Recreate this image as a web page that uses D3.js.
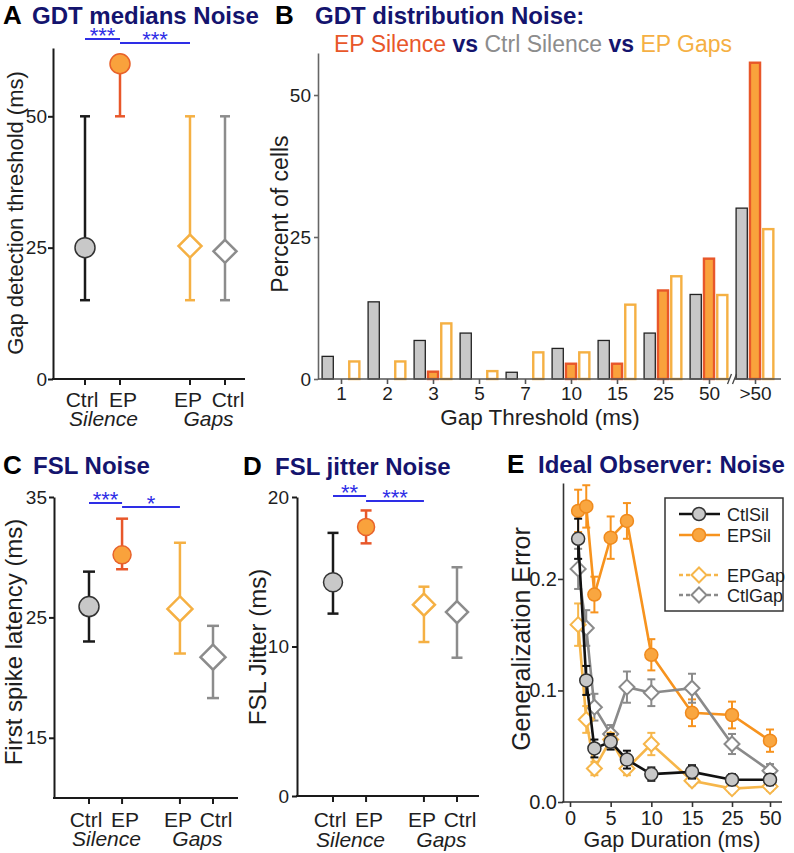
<!DOCTYPE html>
<html><head><meta charset="utf-8">
<script src="https://cdn.jsdelivr.net/npm/d3@7"></script>
<style>
body{margin:0;background:#fff;}
svg{display:block;font-family:"Liberation Sans",Arial,Helvetica,sans-serif;}
</style></head><body>
<svg id="chart" width="794" height="853"></svg>
<script>
// ---------------- DATA ----------------
const groupKeys = ["CtrlSil", "EPSil", "EPGap", "CtrlGap"];
const groupLabels = ["Ctrl", "EP", "EP", "Ctrl"];
const condLabels = ["Silence", "Gaps"];

// Panel A: GDT medians (ms)
const gdtMedian = [25, 60, 25.3, 24.3];
const gdtLow = [15, 50, 15, 15];
const gdtHigh = [50, 60, 50, 50];
const gdtSig = ["***", "***"];

// Panel C: first spike latency (ms)
const fslMedian = [25.9, 30.2, 25.7, 21.7];
const fslLow = [23.0, 29.0, 22.0, 18.3];
const fslHigh = [28.8, 33.2, 31.2, 24.3];
const fslSig = ["***", "*"];

// Panel D: FSL jitter (ms)
const jitMedian = [14.3, 18.0, 12.8, 12.3];
const jitLow = [12.2, 16.9, 10.3, 9.25];
const jitHigh = [17.6, 19.1, 14.0, 15.3];
const jitSig = ["**", "***"];

// Panel B: GDT distribution (% of cells)
const gapThresholds = ["1", "2", "3", "5", "7", "10", "15", "25", "50", ">50"];
const pctCtrlSilence = [4.1, 13.7, 6.9, 8.2, 1.3, 5.5, 6.9, 8.2, 15.0, 30.2];
const pctEPSilence   = [0, 0, 1.5, 0, 0, 2.9, 2.9, 15.8, 21.4, 55.9];
const pctEPGaps      = [3.3, 3.3, 10.0, 1.6, 4.9, 4.9, 13.3, 18.3, 15.0, 26.6];

// Panel E: ideal observer generalization error
const gapDurations = [1, 2, 3, 5, 7, 10, 15, 25, 50];
const errCtlSil = [0.236, 0.109, 0.048, 0.054, 0.038, 0.025, 0.027, 0.020, 0.020];
const semCtlSil = [0.018, 0.013, 0.008, 0.007, 0.008, 0.006, 0.006, 0.005, 0.005];
const errEPSil  = [0.261, 0.265, 0.186, 0.237, 0.252, 0.132, 0.080, 0.078, 0.055];
const semEPSil  = [0.019, 0.019, 0.016, 0.019, 0.016, 0.014, 0.012, 0.012, 0.010];
const errEPGap  = [0.159, 0.074, 0.030, 0.056, 0.030, 0.052, 0.019, 0.012, 0.014];
const semEPGap  = [0.019, 0.012, 0.006, 0.006, 0.006, 0.010, 0.004, 0.004, 0.004];
const errCtlGap = [0.209, 0.156, 0.085, 0.061, 0.103, 0.098, 0.102, 0.052, 0.028];
const semCtlGap = [0.018, 0.016, 0.012, 0.008, 0.014, 0.012, 0.013, 0.009, 0.006];
const seriesNames = ["CtlSil", "EPSil", "EPGap", "CtlGap"];
const eXTicks = [0, 5, 10, 15, 25, 50];
const eYTicks = [0, 0.1, 0.2];

// ---------------- STYLE ----------------
const NAVY = "#14146e", SIGBLUE = "#2e2ee6";
const colStroke = ["#1a1a1a", "#e8572a", "#f5b043", "#8c8c8c"];
const colFill = ["#c8c8c8", "#f9a23c", "#ffffff", "#ffffff"];
const TXT = "#1e1e1e";

const svg = d3.select("#chart");

function styleAxis(a, color, width, fs) {
  a.select(".domain").attr("stroke", color).attr("stroke-width", width);
  a.selectAll(".tick line").attr("stroke", color).attr("stroke-width", width);
  a.selectAll(".tick text").attr("fill", TXT).attr("font-size", fs)
    .attr("font-family", '"Liberation Sans",Arial,sans-serif');
}

function title(letter, lx, text, tx, y) {
  svg.append("text").attr("x", lx).attr("y", y).attr("font-size", 26)
    .attr("font-weight", "bold").attr("fill", "#000").text(letter);
  svg.append("text").attr("x", tx).attr("y", y).attr("font-size", 24)
    .attr("font-weight", "bold").attr("fill", NAVY).text(text);
}

function diamond(s) { return `M0,${-s}L${s},0L0,${s}L${-s},0Z`; }

// --------------- dot / whisker panels -----------------
function dotPanel(o) {
  const g = svg.append("g");
  // index-based position with an extra gap between Silence and Gaps groups
  const xi = d3.scaleLinear().domain([0, 3 + o.gapExtra]).range(o.xRange);
  const xpos = i => xi(i + (i >= 2 ? o.gapExtra : 0));
  const y = d3.scaleLinear().domain(o.yDomain).range([o.yBottom, o.yTop]);

  const ya = g.append("g").attr("transform", `translate(${o.axisX},0)`)
    .call(d3.axisLeft(y).tickValues(o.yTicks).tickSize(5).tickSizeOuter(0).tickPadding(o.tickPad));
  styleAxis(ya, "#1a1a1a", 2, 19);

  g.append("line").attr("x1", o.axisX - 1).attr("x2", o.axisEnd)
    .attr("y1", o.yBottom).attr("y2", o.yBottom).attr("stroke", "#1a1a1a").attr("stroke-width", 2);

  const labDx = [-3, 3, -2, 3];
  groupKeys.forEach((k, i) => {
    const cx = xpos(i);
    g.append("line").attr("x1", cx).attr("x2", cx).attr("y1", o.yBottom).attr("y2", o.yBottom + 6)
      .attr("stroke", "#1a1a1a").attr("stroke-width", 2);
    g.append("text").attr("x", cx + labDx[i]).attr("y", o.yBottom + o.lab1).attr("text-anchor", "middle")
      .attr("font-size", 21).attr("fill", TXT).text(groupLabels[i]);
  });

  [[0, 1], [2, 3]].forEach((p, k) => {
    g.append("text").attr("x", (xpos(p[0]) + xpos(p[1])) / 2 + 1)
      .attr("y", o.yBottom + o.lab2).attr("text-anchor", "middle")
      .attr("font-style", "italic").attr("font-size", 21).attr("fill", TXT).text(condLabels[k]);
  });

  groupKeys.forEach((k, i) => {
    const cx = xpos(i), col = colStroke[i];
    g.append("line").attr("x1", cx).attr("x2", cx).attr("y1", y(o.low[i])).attr("y2", y(o.high[i]))
      .attr("stroke", col).attr("stroke-width", 2.5);
    const caps = [o.low[i]];
    if (o.high[i] > o.med[i]) caps.push(o.high[i]);
    caps.forEach(v => g.append("line").attr("x1", cx - o.cap).attr("x2", cx + o.cap)
      .attr("y1", y(v)).attr("y2", y(v)).attr("stroke", col).attr("stroke-width", 2.5));
    if (i < 2) {
      g.append("circle").attr("cx", cx).attr("cy", y(o.med[i])).attr("r", i === 0 ? o.r0 : o.r1)
        .attr("fill", colFill[i]).attr("stroke", i === 0 ? "#333" : "#e8622a").attr("stroke-width", 1.5);
    } else {
      g.append("path").attr("d", diamond(o.ds)).attr("transform", `translate(${cx},${y(o.med[i])})`)
        .attr("fill", "#fff").attr("stroke", col).attr("stroke-width", 2.5);
    }
  });

  // significance bars
  o.sig.forEach((s, j) => {
    const a = xpos(o.sigPairs[j][0]), b = xpos(o.sigPairs[j][1]);
    g.append("line").attr("x1", a).attr("x2", b).attr("y1", o.sigY[j]).attr("y2", o.sigY[j])
      .attr("stroke", SIGBLUE).attr("stroke-width", 2);
    g.append("text").attr("x", (a + b) / 2).attr("y", o.sigY[j] + 4).attr("text-anchor", "middle")
      .attr("font-size", 22).attr("fill", SIGBLUE).text(s);
  });

  g.append("text").attr("transform", `translate(${o.labX},${o.labY}) rotate(-90)`)
    .attr("text-anchor", "middle").attr("font-size", o.labFs).attr("fill", TXT).text(o.yLabel);
}

// Panel A
title("A", 3, "GDT medians Noise", 32, 24);
dotPanel({
  xRange: [85, 225], gapExtra: 1.0, axisX: 53, axisEnd: 245, yBottom: 379, yTop: 48, yDomain: [0, 63],
  yTicks: [0, 25, 50], tickPad: 1, lab1: 28, lab2: 47,
  med: gdtMedian, low: gdtLow, high: gdtHigh, cap: 5, r0: 10, r1: 10, ds: 11.5,
  sig: gdtSig, sigPairs: [[0, 1], [1, 2]], sigY: [39, 43],
  yLabel: "Gap detection threshold (ms)", labX: 23, labY: 213, labFs: 22
});

// Panel C
title("C", 3, "FSL Noise", 33, 474);
dotPanel({
  xRange: [89, 213], gapExtra: 0.75, axisX: 54, axisEnd: 238, yBottom: 798, yTop: 497, yDomain: [10, 35],
  yTicks: [15, 25, 35], tickPad: 2, lab1: 29, lab2: 48,
  med: fslMedian, low: fslLow, high: fslHigh, cap: 6, r0: 10, r1: 9, ds: 12.5,
  sig: fslSig, sigPairs: [[0, 1], [1, 2]], sigY: [503, 507],
  yLabel: "First spike latency (ms)", labX: 22, labY: 642, labFs: 24
});

// Panel D
title("D", 243, "FSL jitter Noise", 275, 475);
dotPanel({
  xRange: [333, 457], gapExtra: 0.75, axisX: 297, axisEnd: 479, yBottom: 796, yTop: 497, yDomain: [0, 20],
  yTicks: [0, 10, 20], tickPad: 3, lab1: 31, lab2: 51,
  med: jitMedian, low: jitLow, high: jitHigh, cap: 5.5, r0: 9.5, r1: 8.5, ds: 11,
  sig: jitSig, sigPairs: [[0, 1], [1, 2]], sigY: [496, 501],
  yLabel: "FSL Jitter (ms)", labX: 266, labY: 647, labFs: 24
});

// --------------- Panel B -----------------
(function () {
  title("B", 275, "GDT distribution Noise:", 315, 24);
  const sub = svg.append("text").attr("x", 334).attr("y", 52).attr("font-size", 23);
  sub.append("tspan").attr("fill", "#e8572a").text("EP Silence ");
  sub.append("tspan").attr("fill", NAVY).attr("font-weight", "bold").text("vs ");
  sub.append("tspan").attr("fill", "#8c8c8c").text("Ctrl Silence ");
  sub.append("tspan").attr("fill", NAVY).attr("font-weight", "bold").text("vs ");
  sub.append("tspan").attr("fill", "#f5b043").text("EP Gaps");

  const g = svg.append("g");
  const x = d3.scalePoint().domain(gapThresholds).range([341, 755]);
  const y = d3.scaleLinear().domain([0, 57.4]).range([379, 53]);
  const bw = 12.5, off = 13.3;

  const ya = g.append("g").attr("transform", "translate(318,0)")
    .call(d3.axisLeft(y).tickValues([0, 25, 50]).tickSize(4).tickSizeOuter(0).tickPadding(3));
  styleAxis(ya, "#666", 1.6, 19);

  const series = [
    { v: pctCtrlSilence, o: -off, fill: "#c8c8c8", stroke: "#222", sw: 1.3 },
    { v: pctEPSilence, o: 0, fill: "#f9a23c", stroke: "#e8572a", sw: 2.4 },
    { v: pctEPGaps, o: off, fill: "#fff", stroke: "#f5b043", sw: 2.4 }
  ];
  series.forEach(s => {
    g.selectAll(null).data(gapThresholds.map((c, i) => ({ c, v: s.v[i] })).filter(d => d.v > 0))
      .enter().append("rect")
      .attr("x", d => x(d.c) + s.o - bw / 2 + s.sw / 2).attr("width", bw - s.sw)
      .attr("y", d => y(d.v) + s.sw / 2).attr("height", d => y(0) - y(d.v) - s.sw / 2)
      .attr("fill", s.fill).attr("stroke", s.stroke).attr("stroke-width", s.sw);
  });

  g.append("line").attr("x1", 318).attr("x2", 781).attr("y1", 379).attr("y2", 379)
    .attr("stroke", "#555").attr("stroke-width", 1.6);
  const xa = g.append("g").attr("transform", "translate(0,379)")
    .call(d3.axisBottom(x).tickSize(5));
  xa.select(".domain").remove();
  styleAxis(xa, "#555", 1.6, 19);
  xa.selectAll(".tick text").attr("y", 21).attr("dy", 0);

  // axis break marks
  const bx = (x("50") + x(">50")) / 2;
  g.append("rect").attr("x", bx - 3).attr("y", 376).attr("width", 6).attr("height", 6).attr("fill", "#fff");
  [-2.5, 2.5].forEach(d => g.append("line").attr("x1", bx + d - 2).attr("x2", bx + d + 2)
    .attr("y1", 384).attr("y2", 374).attr("stroke", "#444").attr("stroke-width", 1.3));

  g.append("text").attr("transform", "translate(288,214) rotate(-90)").attr("text-anchor", "middle")
    .attr("font-size", 23).attr("fill", TXT).text("Percent of cells");
  g.append("text").attr("x", 540).attr("y", 425).attr("text-anchor", "middle")
    .attr("font-size", 22.5).attr("fill", TXT).text("Gap Threshold (ms)");
})();

// --------------- Panel E -----------------
(function () {
  title("E", 507, "Ideal Observer: Noise", 538, 473);
  const g = svg.append("g");
  const x = d3.scaleLinear().domain([0, 15, 25, 50]).range([570, 692, 732, 770]);
  const y = d3.scaleLinear().domain([0, 0.286]).range([802, 483]);

  const ya = g.append("g").attr("transform", "translate(563,0)")
    .call(d3.axisLeft(y).tickValues(eYTicks).tickFormat(d3.format(".1f")).tickSize(5).tickSizeOuter(0).tickPadding(1));
  styleAxis(ya, "#333", 1.6, 20);
  g.append("line").attr("x1", 562).attr("x2", 782).attr("y1", 802).attr("y2", 802)
    .attr("stroke", "#333").attr("stroke-width", 1.6);
  const xa = g.append("g").attr("transform", "translate(0,802)")
    .call(d3.axisBottom(x).tickValues(eXTicks).tickFormat(d3.format("d")).tickSize(5));
  xa.select(".domain").remove();
  styleAxis(xa, "#333", 1.6, 20);
  xa.selectAll(".tick text").attr("y", 23).attr("dy", 0);

  const defs = [
    { name: seriesNames[0], m: errCtlSil, e: semCtlSil, line: "#111", fill: "#c8c8c8", mk: "#333", shape: "c" },
    { name: seriesNames[1], m: errEPSil, e: semEPSil, line: "#f7931e", fill: "#f9a640", mk: "#f08a1c", shape: "c" },
    { name: seriesNames[2], m: errEPGap, e: semEPGap, line: "#f6b64a", fill: "#fff", mk: "#f6b64a", shape: "d" },
    { name: seriesNames[3], m: errCtlGap, e: semCtlGap, line: "#8a8a8a", fill: "#fff", mk: "#8a8a8a", shape: "d" }
  ];
  const order = [1, 3, 2, 0];
  const line = d3.line().x(d => x(d.x)).y(d => y(d.y));
  order.forEach(k => {
    const s = defs[k];
    const pts = gapDurations.map((gd, i) => ({ x: gd, y: s.m[i], e: s.e[i] }));
    const sg = g.append("g");
    sg.append("path").attr("d", line(pts)).attr("fill", "none").attr("stroke", s.line).attr("stroke-width", 2.6);
    pts.forEach(p => {
      const cx = x(p.x);
      sg.append("line").attr("x1", cx).attr("x2", cx).attr("y1", y(p.y - p.e)).attr("y2", y(p.y + p.e))
        .attr("stroke", s.line).attr("stroke-width", 2);
      [p.y - p.e, p.y + p.e].forEach(v => sg.append("line").attr("x1", cx - 4).attr("x2", cx + 4)
        .attr("y1", y(v)).attr("y2", y(v)).attr("stroke", s.line).attr("stroke-width", 2));
    });
    pts.forEach(p => {
      if (s.shape === "c") sg.append("circle").attr("cx", x(p.x)).attr("cy", y(p.y)).attr("r", 6.5)
        .attr("fill", s.fill).attr("stroke", s.mk).attr("stroke-width", 1.5);
      else sg.append("path").attr("d", diamond(7.5)).attr("transform", `translate(${x(p.x)},${y(p.y)})`)
        .attr("fill", "#fff").attr("stroke", s.mk).attr("stroke-width", 2);
    });
  });

  // legend
  const lg = g.append("g");
  lg.append("rect").attr("x", 665).attr("y", 498).attr("width", 118).attr("height", 113)
    .attr("fill", "#fff").attr("stroke", "#333").attr("stroke-width", 1.5);
  const ly = [514, 535, 575, 595];
  defs.forEach((s, i) => {
    const yy = ly[i];
    lg.append("line").attr("x1", 679).attr("x2", 720).attr("y1", yy).attr("y2", yy)
      .attr("stroke", s.line).attr("stroke-width", 2.6).attr("stroke-dasharray", s.shape === "d" ? "4,3" : null);
    if (s.shape === "c") lg.append("circle").attr("cx", 699).attr("cy", yy).attr("r", 6.5)
      .attr("fill", s.fill).attr("stroke", s.mk).attr("stroke-width", 1.5);
    else lg.append("path").attr("d", diamond(7.5)).attr("transform", `translate(699,${yy})`)
      .attr("fill", "#fff").attr("stroke", s.mk).attr("stroke-width", 2);
    lg.append("text").attr("x", 727).attr("y", yy + 6.5).attr("font-size", 18).attr("fill", TXT).text(s.name);
  });

  g.append("text").attr("transform", "translate(530,639) rotate(-90)").attr("text-anchor", "middle")
    .attr("font-size", 25).attr("fill", TXT).text("Generalization Error");
  g.append("text").attr("x", 672).attr("y", 847).attr("text-anchor", "middle")
    .attr("font-size", 21.5).attr("fill", TXT).text("Gap Duration (ms)");
})();
</script>
</body></html>
